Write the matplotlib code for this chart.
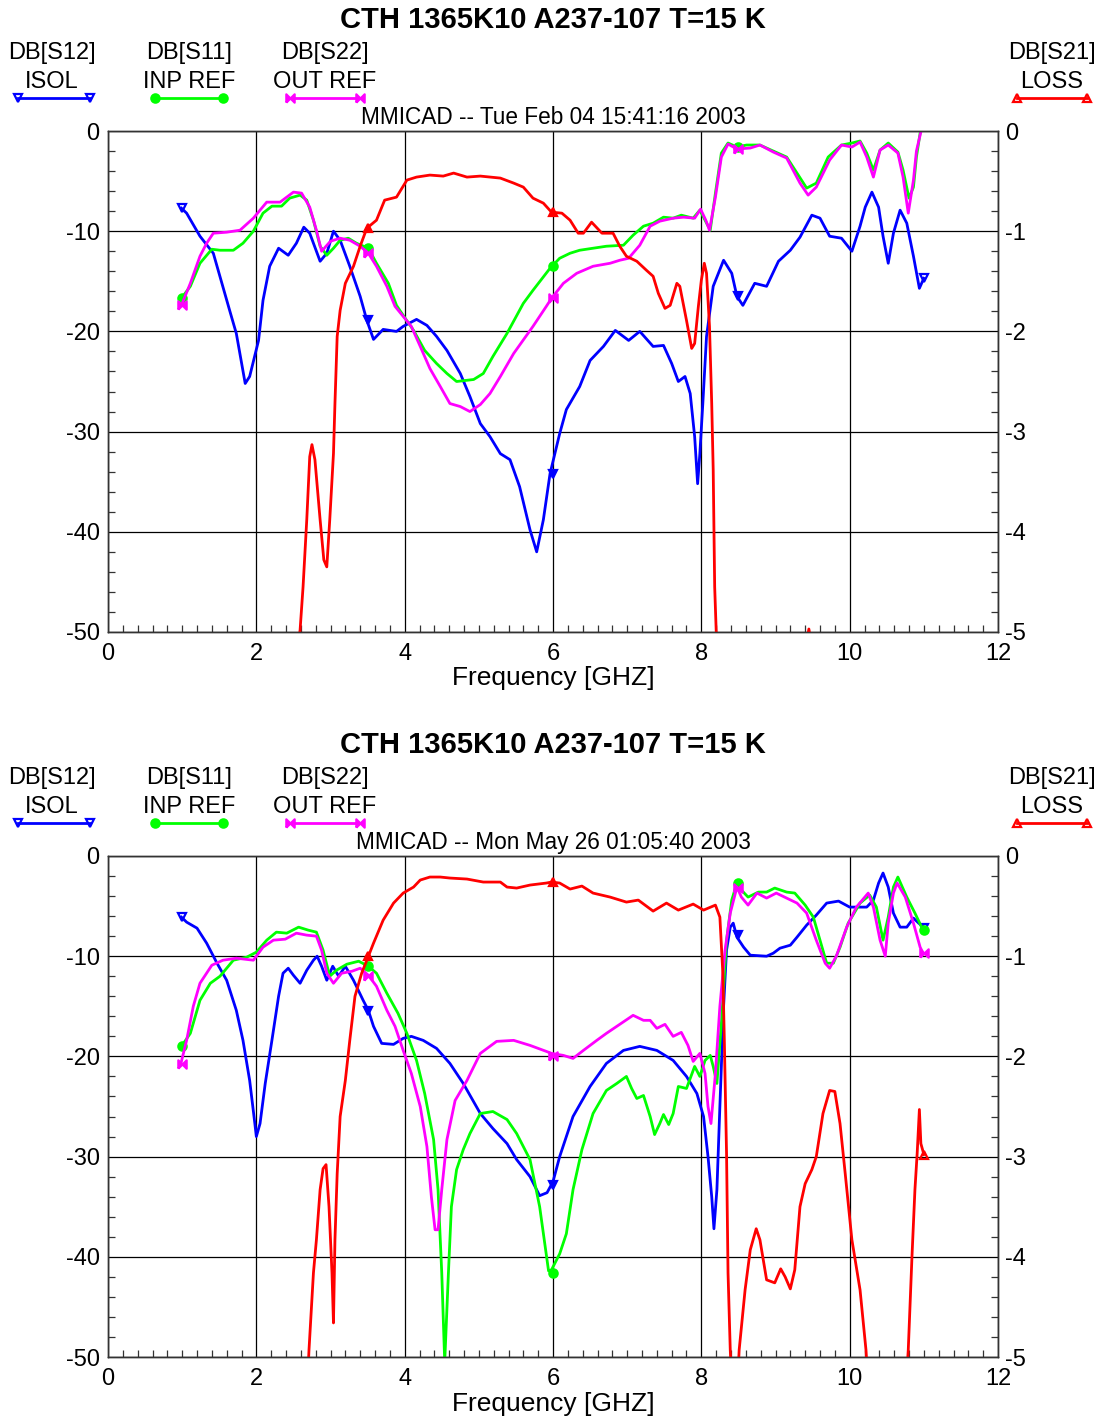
import matplotlib
matplotlib.use("Agg")
import matplotlib.pyplot as plt
from matplotlib.lines import Line2D
from matplotlib.ticker import MultipleLocator

plt.rcParams["font.family"] = ["Liberation Sans", "DejaVu Sans"]
plt.rcParams["axes.unicode_minus"] = False

W, H = 1101, 1421

TITLE = "CTH 1365K10 A237-107 T=15 K"
DATES = ["MMICAD -- Tue Feb 04 15:41:16 2003", "MMICAD -- Mon May 26 01:05:40 2003"]
LEGEND_TOP = ["DB[S12]", "DB[S11]", "DB[S22]", "DB[S21]"]
LEGEND_BOTTOM = ["ISOL", "INP REF", "OUT REF", "LOSS"]
XLABEL = "Frequency [GHZ]"

# ---------------- panel 1 (Feb 04) ----------------
top_isol_f = [0.99, 1.06, 1.24, 1.42, 1.64, 1.73, 1.85, 1.91, 2.03, 2.09, 2.18, 2.30, 2.43, 2.54, 2.64, 2.72,
              2.86, 2.95, 3.04, 3.13, 3.26, 3.40, 3.49, 3.58, 3.71, 3.89, 3.98, 4.16, 4.30, 4.43, 4.57, 4.75,
              4.88, 5.02, 5.15, 5.29, 5.42, 5.55, 5.69, 5.78, 5.87, 5.96, 6.09, 6.18, 6.36, 6.50, 6.68, 6.84,
              7.02, 7.17, 7.35, 7.49, 7.60, 7.69, 7.78, 7.85, 7.91, 7.95, 7.98, 8.02, 8.07, 8.16, 8.30, 8.41,
              8.48, 8.56, 8.72, 8.88, 9.04, 9.20, 9.33, 9.49, 9.60, 9.73, 9.89, 10.03, 10.14, 10.21, 10.30,
              10.39, 10.45, 10.52, 10.59, 10.68, 10.77, 10.86, 10.94, 11.0]
top_isol_db = [-7.7, -8.2, -10.5, -12.2, -17.9, -20.2, -25.2, -24.5, -20.9, -16.9, -13.5, -11.7, -12.4, -11.2,
               -9.6, -10.2, -13.0, -12.2, -10.0, -10.9, -13.5, -16.5, -18.9, -20.8, -19.8, -20.0, -19.5, -18.8,
               -19.4, -20.5, -21.9, -24.2, -26.5, -29.2, -30.5, -32.2, -32.8, -35.5, -39.8, -42.0, -38.8, -34.2,
               -30.2, -27.8, -25.5, -22.9, -21.5, -19.9, -20.9, -20.0, -21.5, -21.4, -23.2, -25.0, -24.5, -26.2,
               -30.5, -35.2, -32.2, -27.2, -20.5, -15.5, -12.9, -14.2, -16.5, -17.4, -15.2, -15.5, -13.0, -11.9,
               -10.6, -8.4, -8.7, -10.5, -10.7, -12.0, -9.5, -7.6, -6.1, -7.6, -10.5, -13.2, -10.2, -7.9, -9.2,
               -12.5, -15.7, -14.7]

top_inp_f = [0.99, 1.11, 1.24, 1.40, 1.51, 1.69, 1.82, 1.96, 2.09, 2.21, 2.34, 2.45, 2.59, 2.68, 2.77, 2.86,
             2.95, 3.04, 3.13, 3.24, 3.35, 3.51, 3.62, 3.78, 3.89, 3.98, 4.12, 4.27, 4.43, 4.57, 4.70, 4.93,
             5.06, 5.19, 5.38, 5.60, 5.73, 5.96, 6.09, 6.23, 6.36, 6.54, 6.72, 6.95, 7.08, 7.22, 7.35, 7.49,
             7.62, 7.73, 7.89, 7.98, 8.05, 8.12, 8.19, 8.27, 8.36, 8.48, 8.61, 8.79, 8.97, 9.15, 9.29, 9.42,
             9.55, 9.71, 9.89, 10.03, 10.14, 10.23, 10.32, 10.41, 10.52, 10.65, 10.72, 10.80, 10.86, 10.90, 10.95]
top_inp_db = [-16.7, -15.5, -13.2, -11.8, -11.9, -11.9, -11.2, -10.0, -8.2, -7.5, -7.5, -6.7, -6.4, -6.9, -8.9,
              -11.5, -12.4, -11.7, -10.9, -10.7, -11.2, -11.7, -13.2, -15.2, -17.4, -18.4, -19.9, -21.9, -23.2,
              -24.2, -25.0, -24.8, -24.2, -22.5, -20.2, -17.2, -15.9, -13.7, -12.7, -12.2, -11.9, -11.7, -11.5,
              -11.4, -10.4, -9.5, -9.2, -8.6, -8.7, -8.4, -8.7, -7.9, -8.9, -9.9, -6.2, -2.2, -1.2, -1.6, -1.4,
              -1.4, -2.0, -2.6, -4.2, -5.7, -5.2, -2.6, -1.4, -1.2, -1.0, -2.2, -3.9, -1.9, -1.2, -2.1, -3.9,
              -6.7, -5.6, -2.6, -0.2]

top_out_f = [0.99, 1.11, 1.24, 1.33, 1.42, 1.60, 1.78, 1.96, 2.14, 2.32, 2.50, 2.61, 2.72, 2.81, 2.88, 3.00,
             3.13, 3.26, 3.40, 3.51, 3.62, 3.76, 3.87, 3.98, 4.09, 4.21, 4.34, 4.48, 4.61, 4.75, 4.88, 5.02,
             5.15, 5.29, 5.47, 5.73, 5.91, 5.98, 6.14, 6.32, 6.54, 6.77, 6.90, 7.02, 7.17, 7.31, 7.44, 7.62,
             7.76, 7.91, 7.99, 8.06, 8.11, 8.19, 8.27, 8.36, 8.48, 8.66, 8.79, 8.97, 9.15, 9.33, 9.44, 9.55,
             9.73, 9.89, 10.03, 10.14, 10.23, 10.32, 10.41, 10.52, 10.65, 10.72, 10.79, 10.86, 10.90, 10.96, 11.0]
top_out_db = [-17.4, -15.2, -12.5, -11.2, -10.2, -10.1, -9.9, -8.7, -7.1, -7.1, -6.1, -6.2, -7.6, -9.9, -12.0,
              -11.0, -10.7, -10.9, -11.5, -12.2, -13.5, -15.5, -17.5, -18.5, -19.5, -21.5, -23.7, -25.5, -27.2,
              -27.5, -28.0, -27.3, -26.2, -24.5, -22.2, -19.5, -17.5, -16.7, -15.2, -14.2, -13.5, -13.2, -12.9,
              -12.7, -11.4, -9.5, -9.0, -8.7, -8.6, -8.7, -7.8, -8.9, -9.9, -6.6, -2.6, -1.3, -1.8, -1.7, -1.4,
              -2.1, -2.7, -5.2, -6.4, -5.6, -2.9, -1.4, -1.6, -1.1, -2.6, -4.6, -1.9, -1.4, -2.2, -4.6, -8.2,
              -4.9, -2.0, -0.1, 1.0]

# loss is read on the right axis (dB, -5..0)
top_loss_f = [2.55, 2.59, 2.63, 2.68, 2.72, 2.75, 2.79, 2.86, 2.91, 2.95, 2.99, 3.04, 3.06, 3.09, 3.13, 3.20,
              3.31, 3.40, 3.49, 3.62, 3.73, 3.89, 4.03, 4.16, 4.34, 4.52, 4.66, 4.84, 5.02, 5.29, 5.47, 5.60,
              5.73, 5.87, 5.98, 6.12, 6.23, 6.34, 6.41, 6.52, 6.66, 6.81, 6.90, 6.99, 7.13, 7.26, 7.35, 7.42,
              7.51, 7.58, 7.67, 7.71, 7.80, 7.87, 7.91, 7.96, 8.00, 8.04, 8.07, 8.11, 8.14, 8.16, 8.18, 8.20,
              8.22, 9.0, 9.42, 9.45, 9.48, 10.0, 11.0]
top_loss_db = [-5.2, -4.98, -4.55, -3.88, -3.25, -3.13, -3.28, -3.88, -4.28, -4.35, -3.88, -3.22, -2.72, -2.05,
               -1.79, -1.52, -1.35, -1.15, -0.97, -0.89, -0.69, -0.66, -0.49, -0.46, -0.44, -0.45, -0.42, -0.46,
               -0.45, -0.47, -0.52, -0.56, -0.67, -0.72, -0.81, -0.82, -0.89, -1.02, -1.02, -0.91, -1.02, -1.02,
               -1.15, -1.25, -1.30, -1.39, -1.45, -1.62, -1.77, -1.74, -1.52, -1.55, -1.89, -2.17, -2.12, -1.75,
               -1.49, -1.32, -1.42, -1.95, -2.72, -3.38, -4.55, -4.98, -5.3, -5.6, -5.1, -4.97, -5.1, -5.6, -5.8]

top_isol_mark = ([1, 3.5, 6, 8.5, 11], [-7.7, -18.9, -34.2, -16.5, -14.7])
top_inp_mark = ([1, 3.5, 6, 8.5], [-16.7, -11.7, -13.5, -1.6])
top_out_mark = ([1, 3.5, 6, 8.5], [-17.4, -12.2, -16.7, -1.8])
top_loss_mark = ([3.5, 6], [-0.97, -0.81])

# ---------------- panel 2 (May 26) ----------------
bot_isol_f = [0.99, 1.06, 1.20, 1.33, 1.47, 1.60, 1.73, 1.82, 1.91, 1.98, 2.00, 2.05, 2.12, 2.21, 2.30, 2.36,
              2.43, 2.50, 2.59, 2.68, 2.77, 2.82, 2.88, 2.95, 3.03, 3.11, 3.20, 3.31, 3.44, 3.51, 3.58, 3.69,
              3.85, 3.98, 4.09, 4.25, 4.43, 4.61, 4.79, 5.02, 5.19, 5.38, 5.51, 5.69, 5.82, 5.92, 6.0, 6.09,
              6.27, 6.50, 6.72, 6.95, 7.17, 7.40, 7.62, 7.80, 7.94, 8.03, 8.09, 8.14, 8.17, 8.21, 8.25, 8.30,
              8.34, 8.39, 8.43, 8.48, 8.57, 8.66, 8.88, 8.97, 9.06, 9.20, 9.29, 9.42, 9.55, 9.69, 9.85, 10.0,
              10.23, 10.32, 10.39, 10.45, 10.52, 10.59, 10.68, 10.77, 10.86, 10.93, 11.02]
bot_isol_db = [-6.1, -6.6, -7.2, -8.7, -10.7, -12.4, -15.4, -18.4, -22.4, -26.7, -28.0, -26.7, -22.7, -18.4,
               -14.0, -11.7, -11.2, -11.9, -12.7, -11.4, -10.4, -10.0, -11.0, -12.4, -11.0, -12.0, -11.0, -12.4,
               -14.4, -15.4, -17.0, -18.7, -18.8, -18.2, -18.0, -18.4, -19.2, -20.7, -22.7, -25.7, -27.2, -28.7,
               -30.3, -32.0, -33.9, -33.6, -32.5, -30.0, -26.0, -23.0, -20.7, -19.4, -19.0, -19.4, -20.4, -22.0,
               -23.7, -26.0, -30.0, -34.0, -37.2, -33.3, -25.0, -15.0, -9.4, -7.1, -6.7, -8.1, -9.1, -9.9, -10.0,
               -9.7, -9.2, -8.9, -8.1, -6.9, -5.9, -4.7, -4.5, -5.1, -5.1, -4.4, -2.7, -1.7, -3.1, -5.7, -7.1,
               -7.1, -6.2, -6.7, -7.2]

bot_inp_f = [0.99, 1.11, 1.24, 1.38, 1.51, 1.69, 1.87, 2.00, 2.14, 2.27, 2.41, 2.57, 2.70, 2.81, 2.90, 2.99,
             3.08, 3.22, 3.38, 3.51, 3.62, 3.76, 3.91, 4.03, 4.16, 4.27, 4.39, 4.45, 4.50, 4.54, 4.59, 4.63,
             4.70, 4.79, 4.88, 5.02, 5.19, 5.38, 5.51, 5.69, 5.82, 5.94, 5.98, 6.09, 6.18, 6.27, 6.39, 6.54,
             6.72, 6.86, 6.99, 7.06, 7.13, 7.22, 7.31, 7.37, 7.44, 7.49, 7.56, 7.62, 7.69, 7.80, 7.91, 7.98,
             8.05, 8.12, 8.16, 8.21, 8.27, 8.34, 8.41, 8.48, 8.54, 8.63, 8.77, 8.88, 8.99, 9.15, 9.26, 9.40,
             9.51, 9.60, 9.69, 9.78, 9.87, 9.98, 10.14, 10.27, 10.36, 10.45, 10.52, 10.59, 10.65, 10.77, 10.88, 10.99]
bot_inp_db = [-19.0, -17.7, -14.4, -12.7, -12.0, -10.4, -10.1, -9.6, -8.4, -7.6, -7.7, -7.1, -7.4, -7.6, -9.4,
              -12.0, -11.4, -10.8, -10.5, -11.0, -11.7, -13.7, -15.7, -17.7, -20.4, -23.7, -28.3, -33.3, -41.6,
              -50.5, -41.6, -35.0, -31.3, -29.3, -27.7, -25.7, -25.5, -26.3, -27.7, -30.3, -35.0, -41.4, -41.3,
              -39.7, -37.7, -33.3, -29.3, -25.7, -23.4, -22.7, -22.0, -23.2, -24.2, -23.9, -26.0, -27.8, -26.7,
              -25.8, -26.8, -25.7, -23.0, -23.2, -21.0, -22.0, -20.4, -19.9, -21.0, -22.7, -16.7, -8.4, -4.4,
              -2.7, -3.4, -4.1, -3.6, -3.6, -3.2, -3.6, -3.7, -4.9, -6.1, -8.4, -10.7, -10.7, -9.1, -6.7, -4.7,
              -3.9, -5.1, -8.4, -6.1, -3.1, -2.1, -4.1, -5.7, -7.4]

bot_out_f = [0.99, 1.06, 1.15, 1.24, 1.40, 1.55, 1.73, 1.96, 2.09, 2.23, 2.39, 2.54, 2.68, 2.81, 2.88, 2.95,
             3.04, 3.15, 3.29, 3.40, 3.51, 3.62, 3.76, 3.87, 3.98, 4.09, 4.21, 4.30, 4.36, 4.41, 4.45, 4.50,
             4.57, 4.68, 4.84, 5.02, 5.24, 5.47, 5.69, 5.91, 5.98, 6.14, 6.27, 6.41, 6.59, 6.72, 6.90, 7.08,
             7.22, 7.31, 7.40, 7.51, 7.62, 7.73, 7.82, 7.89, 7.98, 8.05, 8.09, 8.13, 8.19, 8.25, 8.32, 8.39,
             8.48, 8.54, 8.63, 8.75, 8.88, 9.01, 9.15, 9.29, 9.42, 9.55, 9.67, 9.73, 9.82, 9.96, 10.09, 10.25,
             10.32, 10.41, 10.48, 10.52, 10.59, 10.64, 10.75, 10.86, 10.95, 10.99]
bot_out_db = [-20.5, -18.4, -15.0, -12.7, -10.9, -10.4, -10.2, -10.4, -9.1, -8.4, -8.3, -7.7, -7.9, -8.0, -9.4,
              -11.7, -12.7, -11.7, -11.5, -11.2, -11.9, -13.0, -15.4, -17.0, -19.4, -21.7, -25.0, -29.0, -34.0,
              -37.3, -37.3, -33.3, -28.3, -24.4, -22.4, -19.7, -18.5, -18.4, -18.9, -19.5, -19.7, -19.9, -20.2,
              -19.4, -18.4, -17.7, -16.8, -15.9, -16.4, -16.4, -17.2, -16.8, -18.0, -17.6, -18.9, -20.5, -19.7,
              -21.7, -25.0, -26.7, -21.7, -15.0, -9.4, -5.7, -3.1, -4.1, -4.9, -3.7, -4.2, -3.7, -4.2, -4.7,
              -5.7, -8.4, -10.7, -11.2, -10.0, -7.1, -5.1, -3.7, -5.1, -8.4, -10.0, -6.7, -3.7, -2.7, -4.1,
              -6.7, -9.1, -9.7]

bot_loss_f = [2.68, 2.71, 2.77, 2.81, 2.86, 2.90, 2.94, 2.98, 3.02, 3.04, 3.06, 3.09, 3.13, 3.20, 3.26, 3.33,
              3.42, 3.49, 3.58, 3.71, 3.85, 3.98, 4.12, 4.21, 4.34, 4.48, 4.61, 4.84, 5.06, 5.29, 5.38, 5.51,
              5.69, 5.91, 5.98, 6.09, 6.23, 6.39, 6.54, 6.77, 6.99, 7.15, 7.35, 7.53, 7.69, 7.89, 8.03, 8.19,
              8.25, 8.29, 8.31, 8.34, 8.36, 8.39, 8.42, 8.48, 8.51, 8.59, 8.66, 8.74, 8.79, 8.88, 8.99, 9.07,
              9.13, 9.20, 9.26, 9.33, 9.40, 9.49, 9.55, 9.64, 9.73, 9.80, 9.87, 9.94, 10.03, 10.14, 10.22,
              10.26, 10.75, 10.79, 10.84, 10.88, 10.91, 10.94, 10.96, 10.99, 11.0]
bot_loss_db = [-5.4, -4.93, -4.16, -3.83, -3.33, -3.12, -3.08, -3.50, -4.16, -4.66, -3.83, -3.17, -2.60, -2.24,
               -1.84, -1.40, -1.17, -1.04, -0.87, -0.64, -0.47, -0.37, -0.31, -0.24, -0.21, -0.21, -0.22, -0.23,
               -0.26, -0.26, -0.31, -0.32, -0.29, -0.27, -0.26, -0.27, -0.33, -0.30, -0.37, -0.41, -0.46, -0.44,
               -0.55, -0.47, -0.54, -0.48, -0.54, -0.49, -0.61, -1.17, -1.84, -2.97, -4.16, -4.93, -5.4, -5.4,
               -4.93, -4.33, -3.93, -3.72, -3.83, -4.23, -4.26, -4.12, -4.20, -4.32, -4.13, -3.50, -3.27, -3.13,
               -3.00, -2.57, -2.34, -2.35, -2.67, -3.17, -3.83, -4.33, -4.93, -5.4, -5.4, -4.93, -4.00, -3.33,
               -2.97, -2.53, -2.87, -2.95, -2.98]

bot_isol_mark = ([1, 3.5, 6, 8.5, 11], [-6.1, -15.5, -32.8, -7.9, -7.2])
bot_inp_mark = ([1, 3.5, 6, 8.5, 11], [-19.0, -11.0, -41.6, -2.7, -7.4])
bot_out_mark = ([1, 3.5, 6, 8.5, 11], [-20.8, -12.0, -20.0, -3.2, -9.7])
bot_loss_mark = ([3.5, 6, 11], [-1.0, -0.26, -2.98])

BLUE, GREEN, MAGENTA, RED = "#0000ff", "#00ff00", "#ff00ff", "#ff0000"
BOWTIE = [(-1, -1), (-1, 1), (0, 0), (1, 1), (1, -1), (0, 0), (-1, -1)]
STYLES = [(BLUE, "v", True), (GREEN, "o", False), (MAGENTA, BOWTIE, False), (RED, "^", True)]


def fx(x):
    return x / W


def fy(y):
    return 1 - y / H


def draw_header(fig, dy, date):
    fig.text(fx(553), fy(20 + dy), TITLE, ha="center", va="center", fontsize=21, fontweight="bold")
    cols = [52, 189, 325, 1052]
    spans = [(18, 90), (155, 223), (290, 360), (1017, 1087)]
    for i, (color, marker, hollow) in enumerate(STYLES):
        fig.text(fx(cols[i]), fy(53 + dy), LEGEND_TOP[i], ha="center", va="center", fontsize=17)
        fig.text(fx(cols[i]), fy(82 + dy), LEGEND_BOTTOM[i], ha="center", va="center", fontsize=17)
        x1, x2 = spans[i]
        fig.add_artist(Line2D([fx(x1), fx(x2)], [fy(98 + dy), fy(98 + dy)], transform=fig.transFigure,
                              color=color, lw=2, marker=marker, ms=6,
                              mfc="none" if hollow else color, mec=color, mew=1.6))
    fig.text(fx(553), fy(118 + dy), date, ha="center", va="center", fontsize=16.3)


def draw_panel(fig, dy, isol, inp, out, loss, marks, date):
    draw_header(fig, dy, date)
    ax = fig.add_axes([fx(108), fy(632 + dy), fx(890), 501 / H])
    ax.set_xlim(0, 12)
    ax.set_ylim(-50, 0)
    ax.xaxis.set_major_locator(MultipleLocator(2))
    ax.xaxis.set_minor_locator(MultipleLocator(0.2))
    ax.yaxis.set_major_locator(MultipleLocator(10))
    ax.yaxis.set_minor_locator(MultipleLocator(2))
    ax.grid(which="major", color="black", lw=0.9)
    ax.tick_params(which="major", length=0, labelsize=17)
    ax.tick_params(axis="x", which="major", pad=8)
    ax.tick_params(axis="y", which="major", pad=6)
    ax.tick_params(which="minor", direction="in", length=5, width=0.9, color="#333333",
                   top=False, right=False)
    for s in ax.spines.values():
        s.set_color("#333333")
        s.set_linewidth(1.0)
    ax.set_xlabel(XLABEL, fontsize=19, labelpad=1)

    for (f, db), (color, marker, hollow), (mf, mdb) in zip([isol, inp, out], STYLES[:3], marks[:3]):
        ax.plot(f, db, color=color, lw=2)
        for j, (a, b) in enumerate(zip(mf, mdb)):
            open_end = hollow and (j == 0 or j == len(mf) - 1)
            ax.plot([a], [b], ls="none", marker=marker, ms=6, color=color,
                    mfc="none" if open_end else color, mew=1.6)

    ax2 = ax.twinx()
    ax2.set_ylim(-5, 0)
    ax2.yaxis.set_major_locator(MultipleLocator(1))
    ax2.yaxis.set_minor_locator(MultipleLocator(0.2))
    ax2.tick_params(which="major", length=0, labelsize=17, pad=5)
    ax2.tick_params(which="minor", direction="in", length=5, width=0.9, color="#333333")
    for s in ax2.spines.values():
        s.set_color("#333333")
        s.set_linewidth(1.0)
    f, db = loss
    ax2.plot(f, db, color=RED, lw=2)
    mf, mdb = marks[3]
    for j, (a, b) in enumerate(zip(mf, mdb)):
        open_end = j == len(mf) - 1 and a >= 11
        ax2.plot([a], [b], ls="none", marker="^", ms=6, color=RED,
                 mfc="none" if open_end else RED, mew=1.6)
    return ax


fig = plt.figure(figsize=(W / 100, H / 100), dpi=100)
draw_panel(fig, 0, (top_isol_f, top_isol_db), (top_inp_f, top_inp_db), (top_out_f, top_out_db),
           (top_loss_f, top_loss_db), [top_isol_mark, top_inp_mark, top_out_mark, top_loss_mark], DATES[0])
draw_panel(fig, 725, (bot_isol_f, bot_isol_db), (bot_inp_f, bot_inp_db), (bot_out_f, bot_out_db),
           (bot_loss_f, bot_loss_db), [bot_isol_mark, bot_inp_mark, bot_out_mark, bot_loss_mark], DATES[1])
fig.savefig("out.png", dpi=100)
